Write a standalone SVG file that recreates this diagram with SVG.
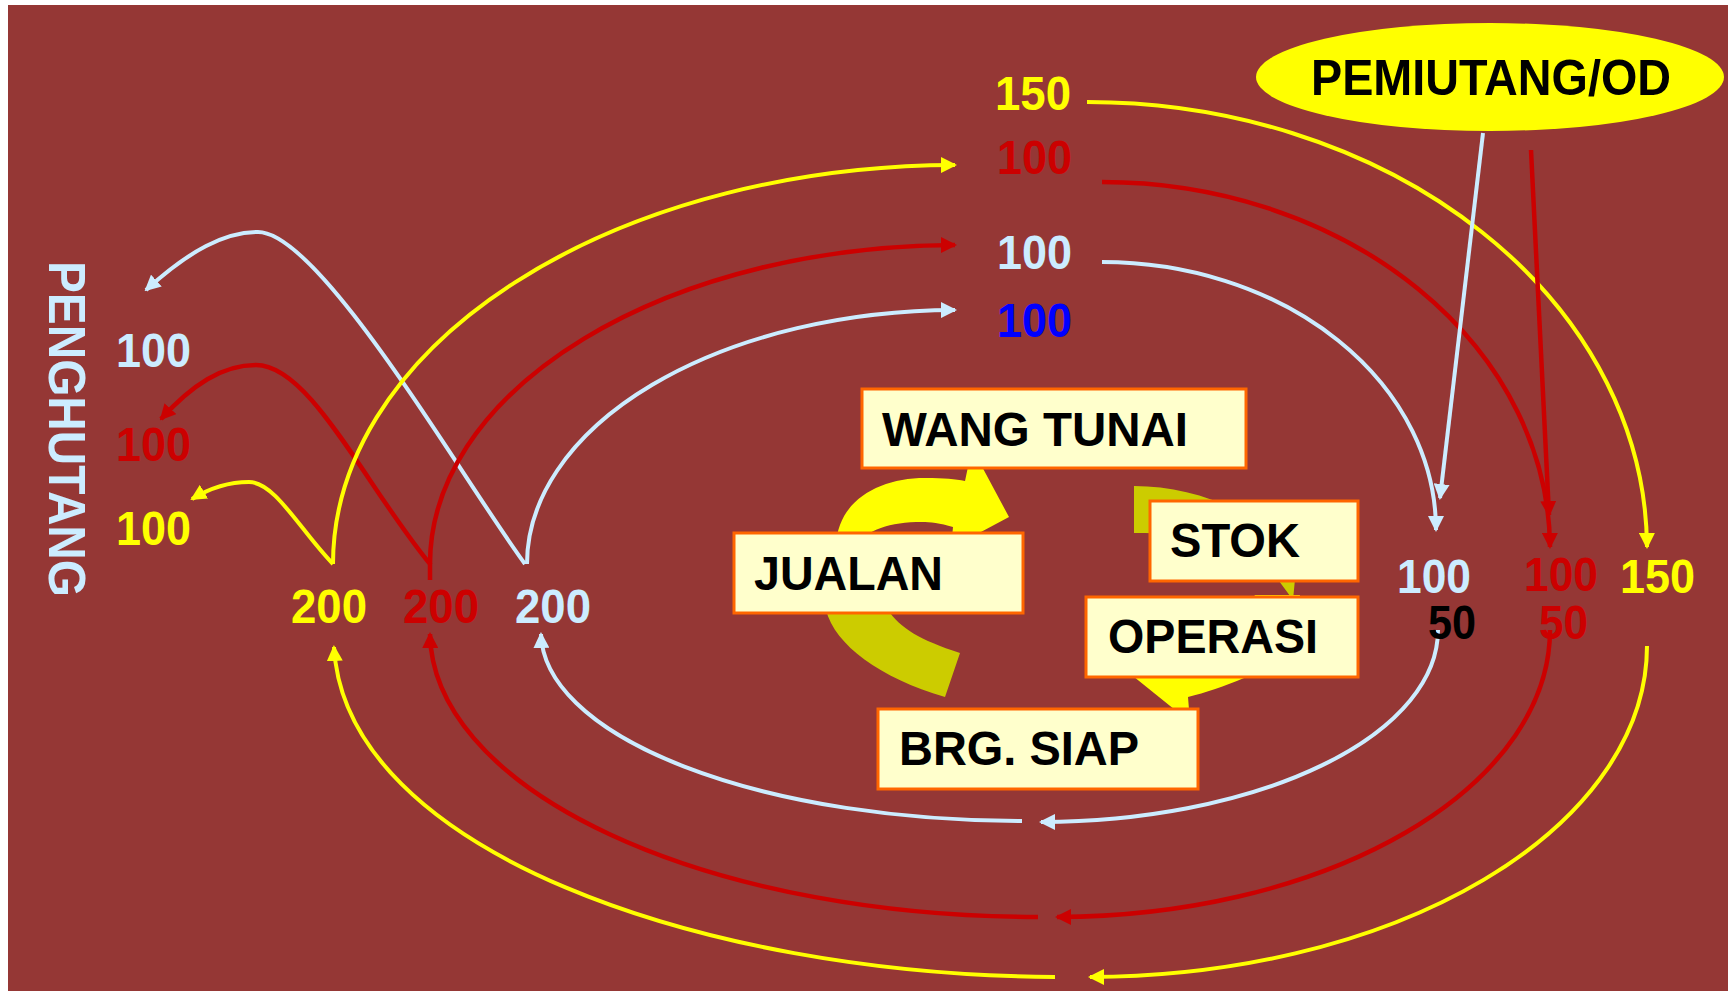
<svg xmlns="http://www.w3.org/2000/svg" width="1728" height="991" viewBox="0 0 1728 991">
<style>
.t{font-family:"Liberation Sans",Arial,sans-serif;font-weight:bold}
.y{fill:#FFFF00}.r{fill:#CC0000}.lb{fill:#CCECFF}.b{fill:#0000FF}.k{fill:#000000}
.cy{fill:none;stroke:#FFFF00;stroke-width:4}
.cr{fill:none;stroke:#CC0000;stroke-width:4.5}
.cl{fill:none;stroke:#CCECFF;stroke-width:4}
.box{fill:#FFFFCC;stroke:#FF6600;stroke-width:3}
</style>
<defs>
<marker id="ay" markerUnits="userSpaceOnUse" viewBox="0 0 16 16" markerWidth="16" markerHeight="16" refX="14" refY="8" orient="auto"><path d="M0,0 L16,8 L0,16 Z" fill="#FFFF00"/></marker>
<marker id="ar" markerUnits="userSpaceOnUse" viewBox="0 0 16 16" markerWidth="16" markerHeight="16" refX="14" refY="8" orient="auto"><path d="M0,0 L16,8 L0,16 Z" fill="#CC0000"/></marker>
<marker id="al" markerUnits="userSpaceOnUse" viewBox="0 0 16 16" markerWidth="16" markerHeight="16" refX="14" refY="8" orient="auto"><path d="M0,0 L16,8 L0,16 Z" fill="#CCECFF"/></marker>
</defs>
<rect x="0" y="0" width="1728" height="991" fill="#FFFFFF"/>
<rect x="8" y="5" width="1720" height="986" fill="#953735"/>

<g id="connectors">
<!-- to PENGHUTANG -->
<path class="cl" d="M525,564 C460,475 320,232 258,232 C225,232 190,250 146,290" marker-end="url(#al)"/>
<path class="cr" d="M430,580 L430,564 C365,485 310,365 256,365 C222,365 192,385 161,419" marker-end="url(#ar)"/>
<path class="cy" d="M333,564 C300,530 275,482 249,482 C230,482 210,488 192,499" marker-end="url(#ay)"/>
<!-- upper arcs to top labels -->
<path class="cy" d="M333,564 A624,399 0 0 1 955,165" marker-end="url(#ay)"/>
<path class="cr" d="M430,564 A527,319 0 0 1 955,245" marker-end="url(#ar)"/>
<path class="cl" d="M527,564 A430,254 0 0 1 955,310" marker-end="url(#al)"/>
<!-- top labels to right -->
<path class="cy" d="M1087,102 A560,447 0 0 1 1647,547" marker-end="url(#ay)"/>
<path class="cr" d="M1102,182 A448,367 0 0 1 1550,547" marker-end="url(#ar)"/>
<path class="cl" d="M1102,262 A334,268 0 0 1 1436,530" marker-end="url(#al)"/>
<!-- from PEMIUTANG/OD -->
<path class="cl" d="M1483,133 L1440,498" marker-end="url(#al)"/>
<path class="cr" d="M1531,150 L1549,515" marker-end="url(#ar)"/>
<!-- lower arcs -->
<path class="cl" d="M1438,630 A399,192 0 0 1 1041,822" marker-end="url(#al)"/>
<path class="cl" d="M1022,821 A481,189 0 0 1 541,634" marker-end="url(#al)"/>
<path class="cr" d="M1550,630 A495,287 0 0 1 1057,917" marker-end="url(#ar)"/>
<path class="cr" d="M1038,917 A608,285 0 0 1 430,634" marker-end="url(#ar)"/>
<path class="cy" d="M1647,646 A559,331 0 0 1 1090,977" marker-end="url(#ay)"/>
<path class="cy" d="M1055,977 C700,975 345,850 334,647" marker-end="url(#ay)"/>
</g>

<g id="cycle-arrows">
<path d="M836,545 C838,500 880,478 925,478 C945,478 955,479 965,481 L972,448 L1009,517 L951,548 L953,527 C940,523 930,522 922,522 C890,522 866,530 857,545 Z" fill="#FFFF00"/>
<path d="M826,610 C835,645 880,678 945,697 L960,653 C920,640 900,628 888,610 Z" fill="#CCCC00"/>
<path d="M1134,486 C1190,486 1250,508 1280,545 L1299,538 L1293,600 L1260,555 L1268,552 C1240,540 1190,533 1134,533 Z" fill="#CCCC00"/>
<path d="M1300,595 C1290,650 1265,670 1244,678 C1225,686 1205,693 1188,697 L1190,722 L1118,664 L1140,650 C1200,640 1240,620 1255,595 Z" fill="#FFFF00"/>
</g>

<g id="wang-tunai"><rect class="box" x="862" y="389" width="384" height="79"/><text class="t k" x="882" y="446" font-size="48" textLength="306" lengthAdjust="spacingAndGlyphs">WANG TUNAI</text></g>
<g id="jualan"><rect class="box" x="734" y="533" width="289" height="80"/><text class="t k" x="754" y="590" font-size="48" textLength="189" lengthAdjust="spacingAndGlyphs">JUALAN</text></g>
<g id="stok"><rect class="box" x="1150" y="501" width="208" height="80"/><text class="t k" x="1170" y="557" font-size="48" textLength="130" lengthAdjust="spacingAndGlyphs">STOK</text></g>
<g id="operasi"><rect class="box" x="1086" y="597" width="272" height="80"/><text class="t k" x="1108" y="653" font-size="48" textLength="210" lengthAdjust="spacingAndGlyphs">OPERASI</text></g>
<g id="brg-siap"><rect class="box" x="878" y="709" width="320" height="80"/><text class="t k" x="899" y="765" font-size="48" textLength="240" lengthAdjust="spacingAndGlyphs">BRG. SIAP</text></g>

<g id="pemiutang"><ellipse cx="1490" cy="77" rx="234" ry="54" fill="#FFFF00"/><text class="t k" x="1311" y="95" font-size="50" textLength="360" lengthAdjust="spacingAndGlyphs">PEMIUTANG/OD</text></g>

<g id="penghutang"><text class="t lb" transform="translate(49,261) rotate(90)" x="0" y="0" font-size="51" textLength="336" lengthAdjust="spacingAndGlyphs">PENGHUTANG</text></g>

<g id="labels" font-size="48">
<text class="t lb" x="116" y="367" textLength="75" lengthAdjust="spacingAndGlyphs">100</text>
<text class="t r" x="116" y="461" textLength="75" lengthAdjust="spacingAndGlyphs">100</text>
<text class="t y" x="116" y="545" textLength="75" lengthAdjust="spacingAndGlyphs">100</text>
<text class="t y" x="291" y="623" textLength="76" lengthAdjust="spacingAndGlyphs">200</text>
<text class="t r" x="403" y="623" textLength="76" lengthAdjust="spacingAndGlyphs">200</text>
<text class="t lb" x="515" y="623" textLength="76" lengthAdjust="spacingAndGlyphs">200</text>
<text class="t y" x="995" y="110" textLength="76" lengthAdjust="spacingAndGlyphs">150</text>
<text class="t r" x="997" y="174" textLength="75" lengthAdjust="spacingAndGlyphs">100</text>
<text class="t lb" x="997" y="269" textLength="75" lengthAdjust="spacingAndGlyphs">100</text>
<text class="t b" x="997" y="337" textLength="75" lengthAdjust="spacingAndGlyphs">100</text>
<text class="t lb" x="1397" y="593" textLength="74" lengthAdjust="spacingAndGlyphs">100</text>
<text class="t r" x="1524" y="591" textLength="74" lengthAdjust="spacingAndGlyphs">100</text>
<text class="t y" x="1620" y="593" textLength="75" lengthAdjust="spacingAndGlyphs">150</text>
<text class="t k" x="1428" y="639" textLength="48" lengthAdjust="spacingAndGlyphs">50</text>
<text class="t r" x="1539" y="639" textLength="49" lengthAdjust="spacingAndGlyphs">50</text>
</g>
</svg>
